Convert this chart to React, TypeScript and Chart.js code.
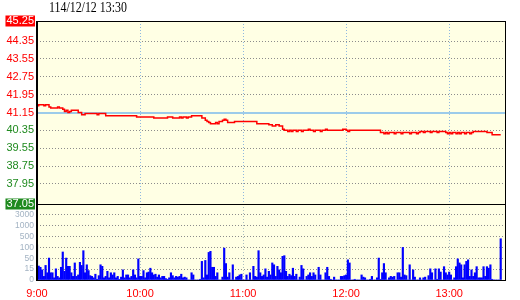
import React, { useEffect, useRef } from 'react';
import { Chart, registerables } from 'chart.js';

Chart.register(...registerables);

// ---------- data ----------
const TITLE = '114/12/12 13:30';
const REF_PRICE = 41.15;
const PRICE_TICKS = [37.05, 37.95, 38.75, 39.55, 40.35, 41.15, 41.95, 42.75, 43.55, 44.35, 45.25];
const VOL_TICK_VALUES = [0, 15, 50, 100, 500, 1000, 3000];
const HOUR_TICKS = [0, 60, 120, 180, 240];
const HOUR_LABELS = ['9:00', '10:00', '11:00', '12:00', '13:00'];

// one value per minute, 9:00 .. 13:30
const PRICES = [
  41.45, 41.5, 41.5, 41.5, 41.45, 41.5, 41.5, 41.4, 41.35, 41.35,
  41.35, 41.35, 41.4, 41.35, 41.35, 41.3, 41.2, 41.25, 41.15, 41.2,
  41.25, 41.25, 41.25, 41.25, 41.15, 41.15, 41.05, 41.05, 41.1, 41.1,
  41.1, 41.1, 41.1, 41.1, 41.1, 41.05, 41.1, 41.1, 41.1, 41.1,
  41.0, 41.0, 41.0, 41.0, 41.0, 41.0, 41.0, 41.0, 41.0, 41.0,
  41.0, 41.0, 41.0, 41.0, 41.0, 41.0, 41.0, 41.0, 40.95, 40.95,
  40.95, 40.95, 40.95, 40.95, 40.95, 40.95, 40.95, 40.95, 40.9, 40.9,
  40.9, 40.9, 40.9, 40.9, 40.9, 40.9, 40.95, 40.95, 40.95, 40.9,
  40.9, 40.9, 40.9, 40.95, 40.9, 40.95, 40.95, 40.9, 40.95, 40.95,
  41.0, 41.0, 41.0, 41.0, 41.0, 41.0, 40.9, 40.9, 40.8, 40.75,
  40.7, 40.65, 40.65, 40.65, 40.7, 40.65, 40.75, 40.75, 40.8, 40.85,
  40.8, 40.7, 40.7, 40.7, 40.7, 40.75, 40.75, 40.75, 40.75, 40.75,
  40.75, 40.75, 40.75, 40.75, 40.75, 40.75, 40.75, 40.75, 40.65, 40.65,
  40.65, 40.65, 40.65, 40.65, 40.65, 40.6, 40.6, 40.55, 40.55, 40.6,
  40.6, 40.55, 40.55, 40.4, 40.35, 40.35, 40.3, 40.35, 40.3, 40.35,
  40.35, 40.3, 40.35, 40.35, 40.3, 40.35, 40.35, 40.35, 40.4, 40.35,
  40.35, 40.3, 40.35, 40.35, 40.35, 40.3, 40.35, 40.35, 40.4, 40.35,
  40.35, 40.35, 40.35, 40.35, 40.35, 40.35, 40.35, 40.35, 40.4, 40.4,
  40.35, 40.3, 40.35, 40.35, 40.35, 40.35, 40.35, 40.35, 40.35, 40.35,
  40.35, 40.35, 40.35, 40.35, 40.35, 40.35, 40.35, 40.35, 40.35, 40.35,
  40.25, 40.25, 40.2, 40.25, 40.2, 40.25, 40.25, 40.25, 40.2, 40.25,
  40.25, 40.25, 40.2, 40.25, 40.25, 40.25, 40.25, 40.2, 40.25, 40.25,
  40.25, 40.2, 40.25, 40.3, 40.3, 40.25, 40.3, 40.3, 40.3, 40.25,
  40.3, 40.3, 40.3, 40.25, 40.3, 40.3, 40.3, 40.3, 40.25, 40.2,
  40.25, 40.2, 40.25, 40.25, 40.2, 40.25, 40.2, 40.25, 40.25, 40.2,
  40.25, 40.25, 40.2, 40.25, 40.3, 40.3, 40.3, 40.3, 40.3, 40.3,
  40.3, 40.3, 40.25, 40.25, 40.25, 40.15, 40.15, 40.15, 40.15, 40.15,
  40.15,
];

// traded lots per minute, 9:00 .. 13:30
const VOLUMES = [
  200, 25, 21, 14, 5, 27, 10, 51, 10, 10,
  3, 16, 5, 3, 21, 79, 12, 51, 24, 24,
  10, 5, 35, 5, 7, 37, 27, 85, 10, 29,
  13, 6, 5, 3, 8, 1, 6, 29, 24, 3,
  5, 12, 3, 10, 7, 10, 3, 5, 1, 4,
  14, 3, 7, 7, 3, 5, 14, 7, 3, 48,
  5, 5, 13, 3, 10, 11, 18, 10, 7, 8,
  4, 7, 3, 5, 5, 2, 1, 3, 10, 6,
  3, 5, 4, 5, 8, 3, 4, 3, 0, 0,
  10, 7, 0, 0, 0, 1, 40, 3, 43, 7,
  77, 82, 21, 21, 5, 10, 0, 0, 4, 97,
  33, 4, 10, 0, 29, 0, 4, 5, 7, 8,
  0, 0, 7, 0, 10, 0, 24, 5, 4, 85,
  10, 5, 7, 16, 4, 12, 7, 35, 29, 5,
  24, 14, 10, 59, 62, 12, 5, 8, 6, 18,
  5, 8, 0, 4, 27, 16, 0, 5, 7, 10,
  5, 10, 7, 0, 21, 7, 0, 0, 10, 21,
  5, 1, 0, 4, 0, 0, 0, 5, 5, 6,
  7, 45, 35, 0, 0, 1, 0, 0, 0, 7,
  4, 3, 0, 0, 1, 5, 0, 0, 3, 51,
  1, 10, 33, 10, 0, 3, 5, 4, 5, 0,
  10, 10, 4, 100, 7, 6, 0, 29, 0, 14,
  4, 0, 0, 3, 0, 3, 4, 0, 6, 16,
  10, 0, 16, 1, 16, 11, 0, 23, 10, 7,
  11, 7, 0, 3, 23, 48, 35, 29, 3, 29,
  40, 45, 5, 14, 5, 10, 23, 3, 3, 3,
  23, 5, 23, 18, 29, 1, 0, 0, 0, 0,
  420,
];

// ---------- layout / style ----------
const W = 520;
const H = 300;
const LEFT = 37;
const RIGHT = 505;
const TOP = 21;
const MID = 204;
const BOTTOM = 280;
const X_MAX = 272.5;
const BG = '#ffffe4';
const RED = '#ff0000';
const GREEN = '#1f8a1f';
const GRID_GRAY = '#8c8c8c';
const GRID_BLUE = '#8fb8e0';
const REF_BLUE = '#9ccbea';
const FONT = 'Liberation Sans, Arial, sans-serif';

// piecewise volume axis: each labelled level is one equal step
function volLevel(v: number): number {
  const L = VOL_TICK_VALUES;
  for (let i = 0; i < L.length - 1; i++) {
    if (v <= L[i + 1]) return i + (v - L[i]) / (L[i + 1] - L[i]);
  }
  return L.length - 1 + (v - L[L.length - 1]) / 2000;
}

const bgPlugin = {
  id: 'panelBg',
  beforeDraw(chart: any) {
    const { ctx, chartArea: a } = chart;
    ctx.save();
    ctx.fillStyle = BG;
    ctx.fillRect(a.left, a.top, a.right - a.left, a.bottom - a.top);
    ctx.restore();
  },
};

const framePlugin = {
  id: 'panelFrame',
  afterDraw(chart: any) {
    const { ctx, chartArea: a } = chart;
    ctx.save();
    ctx.fillStyle = '#000000';
    ctx.fillRect(a.left, Math.round(a.top), a.right - a.left + 1, 1);
    ctx.fillRect(a.left, Math.round(a.bottom), a.right - a.left + 1, 1);
    ctx.fillRect(a.left - 1, a.top, 2, a.bottom - a.top + 1);
    ctx.fillRect(a.right, a.top, 1, a.bottom - a.top + 1);
    ctx.restore();
  },
};

function hourTicks(scale: any) {
  scale.ticks = HOUR_TICKS.map((v) => ({ value: v }));
}

export default function App() {
  const priceRef = useRef<HTMLCanvasElement | null>(null);
  const volRef = useRef<HTMLCanvasElement | null>(null);

  useEffect(() => {
    const lastIdx = PRICE_TICKS.length - 1;
    const priceChart = new Chart(priceRef.current as HTMLCanvasElement, {
      type: 'line',
      data: {
        datasets: [
          {
            data: PRICES.map((p, i) => ({ x: i, y: p })),
            borderColor: RED,
            borderWidth: 1.5,
            pointRadius: 0,
            stepped: true,
            fill: false,
          },
        ],
      },
      options: {
        responsive: false,
        animation: false,
        devicePixelRatio: 1,
        events: [],
        layout: { padding: { top: TOP, bottom: H - MID, left: 0, right: W - RIGHT } },
        plugins: { legend: { display: false }, tooltip: { enabled: false }, title: { display: false } },
        scales: {
          x: {
            type: 'linear',
            min: 0,
            max: X_MAX,
            afterBuildTicks: hourTicks,
            afterFit: (s: any) => {
              s.height = 0;
            },
            ticks: { display: false },
            grid: {
              drawTicks: false,
              color: (c: any) => (c.index === 0 ? 'transparent' : GRID_BLUE),
            },
            border: { display: false, dash: [1, 2] },
          },
          y: {
            type: 'linear',
            min: PRICE_TICKS[0],
            max: PRICE_TICKS[lastIdx],
            afterBuildTicks: (s: any) => {
              s.ticks = PRICE_TICKS.map((v) => ({ value: v }));
            },
            afterFit: (s: any) => {
              s.width = LEFT;
            },
            ticks: {
              autoSkip: false,
              padding: 3,
              font: { family: FONT, size: 11, lineHeight: 1 },
              color: (c: any) => {
                if (c.index === 0 || c.index === lastIdx) return '#ffffff';
                return PRICE_TICKS[c.index] >= REF_PRICE ? RED : GREEN;
              },
              showLabelBackdrop: (c: any) => c.index === 0 || c.index === lastIdx,
              backdropColor: (c: any) => (c.index === 0 ? GREEN : RED),
              backdropPadding: { top: 0, bottom: 0, left: 1, right: 1 },
              callback: (v: any, i: number) => PRICE_TICKS[i].toFixed(2),
            },
            grid: {
              drawTicks: false,
              color: (c: any) => {
                if (c.index === 0 || c.index === lastIdx) return 'transparent';
                return PRICE_TICKS[c.index] === REF_PRICE ? REF_BLUE : GRID_GRAY;
              },
              lineWidth: (c: any) => (PRICE_TICKS[c.index] === REF_PRICE ? 2 : 1),
            },
            border: {
              display: false,
              dash: (c: any) => (c.tick && c.tick.value === REF_PRICE ? [] : [1, 2]),
            },
          },
        },
      } as any,
      plugins: [bgPlugin, framePlugin],
    });

    const volChart = new Chart(volRef.current as HTMLCanvasElement, {
      type: 'bar',
      data: {
        datasets: [
          {
            data: VOLUMES.map((v, i) => ({ x: i, y: volLevel(v) })),
            backgroundColor: '#0000ff',
            borderWidth: 0,
            barThickness: 1.5,
          },
        ],
      },
      options: {
        responsive: false,
        animation: false,
        devicePixelRatio: 1,
        events: [],
        layout: { padding: { top: MID, bottom: 0, left: 0, right: W - RIGHT } },
        plugins: { legend: { display: false }, tooltip: { enabled: false } },
        scales: {
          x: {
            type: 'linear',
            min: 0,
            max: X_MAX,
            offset: false,
            afterBuildTicks: hourTicks,
            afterFit: (s: any) => {
              s.height = H - BOTTOM;
            },
            ticks: {
              autoSkip: false,
              maxRotation: 0,
              padding: 7,
              color: RED,
              font: { family: FONT, size: 11 },
              callback: (v: any) => HOUR_LABELS[HOUR_TICKS.indexOf(Number(v))],
            },
            grid: {
              offset: false,
              drawTicks: false,
              color: (c: any) => (c.index === 0 ? 'transparent' : '#a9bcc0'),
            },
            border: { display: false, dash: [1, 2] },
          },
          y: {
            type: 'linear',
            min: 0,
            max: VOL_TICK_VALUES.length,
            afterBuildTicks: (s: any) => {
              s.ticks = VOL_TICK_VALUES.map((_, i) => ({ value: i }));
            },
            afterFit: (s: any) => {
              s.width = LEFT;
            },
            ticks: {
              autoSkip: false,
              padding: 3,
              color: '#a3b3c3',
              font: { family: FONT, size: 8.5, lineHeight: 1 },
              callback: (v: any, i: number) => String(VOL_TICK_VALUES[i]),
            },
            grid: {
              drawTicks: false,
              color: (c: any) => (c.index === 0 ? 'transparent' : GRID_GRAY),
            },
            border: { display: false, dash: [1, 2] },
          },
        },
      } as any,
      plugins: [bgPlugin, framePlugin],
    });

    return () => {
      priceChart.destroy();
      volChart.destroy();
    };
  }, []);

  return (
    <div style={{ position: 'absolute', left: 0, top: 0, width: W, height: H, background: '#ffffff' }}>
      <canvas ref={priceRef} width={W} height={H} style={{ position: 'absolute', left: 0, top: 0 }} />
      <canvas ref={volRef} width={W} height={H} style={{ position: 'absolute', left: 0, top: 0 }} />
      <div
        style={{
          position: 'absolute',
          left: 49,
          top: 1,
          fontFamily: 'Liberation Serif, Times New Roman, serif',
          fontSize: 14,
          lineHeight: '14px',
          color: '#000000',
          whiteSpace: 'nowrap',
          transform: 'scaleX(0.85)',
          transformOrigin: 'left top',
        }}
      >
        {TITLE}
      </div>
    </div>
  );
}
